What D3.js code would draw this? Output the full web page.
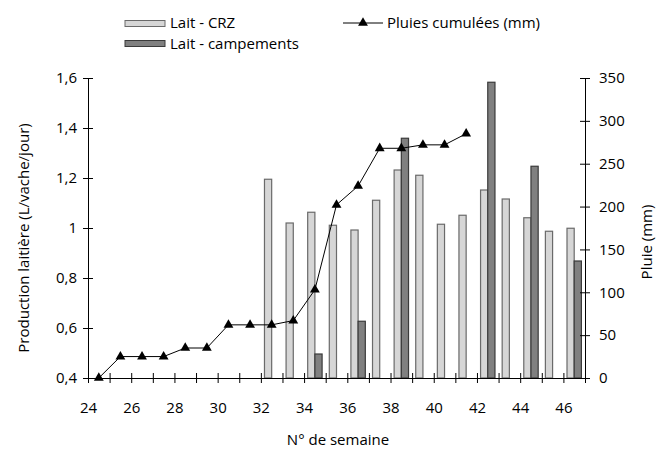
<!DOCTYPE html>
<html>
<head>
<meta charset="utf-8">
<script src="https://cdn.jsdelivr.net/npm/d3@7"></script>
<style>
  html, body { margin: 0; padding: 0; background: #fff; }
  svg { display: block; }
  text { font-family: "Open Sans", "DejaVu Sans", sans-serif; fill: #000; }
</style>
</head>
<body>
<svg id="chart" width="658" height="450"></svg>
<script>
const weeks = [24,25,26,27,28,29,30,31,32,33,34,35,36,37,38,39,40,41,42,43,44,45,46];
const laitCRZ = [null,null,null,null,null,null,null,null,
  1.195,1.02,1.063,1.011,0.992,1.111,1.232,1.211,1.015,1.051,1.152,1.116,1.041,0.987,0.999];
const laitCampements = [null,null,null,null,null,null,null,null,
  null,null,0.496,null,0.627,null,1.359,null,null,null,1.583,null,1.247,null,0.868];
const pluiesCumulees = [0,25,25,25,35,35,62,62,62,67,103,202,224,268,268,272,272,285,
  null,null,null,null,null];
const leftTicks = [0.4,0.6,0.8,1,1.2,1.4,1.6];
const rightTicks = [0,50,100,150,200,250,300,350];
const xTickLabels = [24,26,28,30,32,34,36,38,40,42,44,46];

const svg = d3.select("#chart");
const L = 88, R = 585, T = 78, B = 378;
const FS = 15;

const x = d3.scaleBand().domain(weeks).range([L, R]).padding(0);
const xAxisScale = d3.scaleLinear().domain([weeks[0], weeks[weeks.length-1] + 1]).range([L, R]);
const xSub = d3.scaleBand().domain(["crz","camp"]).range([0, x.bandwidth()]).paddingInner(0).paddingOuter(0.5);
const yL = d3.scaleLinear().domain([0.4, 1.6]).range([B, T]);
const yR = d3.scaleLinear().domain([0, 350]).range([B, T]);

// Bars
const crzData = weeks.map((w,i) => ({w, v: laitCRZ[i]})).filter(d => d.v != null);
const campData = weeks.map((w,i) => ({w, v: laitCampements[i]})).filter(d => d.v != null);

svg.append("g").selectAll("rect").data(crzData).join("rect")
  .attr("x", d => x(d.w) + xSub("crz"))
  .attr("y", d => yL(d.v))
  .attr("width", xSub.bandwidth())
  .attr("height", d => yL(0.4) - yL(d.v))
  .attr("fill", "#d6d6d6").attr("stroke", "#6a6a6a").attr("stroke-width", 1.2);

svg.append("g").selectAll("rect").data(campData).join("rect")
  .attr("x", d => x(d.w) + xSub("camp"))
  .attr("y", d => yL(d.v))
  .attr("width", xSub.bandwidth())
  .attr("height", d => yL(0.4) - yL(d.v))
  .attr("fill", "#808080").attr("stroke", "#3a3a3a").attr("stroke-width", 1.2);

// Rain line
const rainData = weeks.map((w,i) => ({w, v: pluiesCumulees[i]})).filter(d => d.v != null);
const line = d3.line().x(d => x(d.w) + x.bandwidth()/2).y(d => yR(d.v));
svg.append("path").datum(rainData).attr("d", line)
  .attr("fill", "none").attr("stroke", "#000").attr("stroke-width", 1);
const tri = d3.symbol().type(d3.symbolTriangle).size(42);
svg.append("g").selectAll("path").data(rainData).join("path")
  .attr("d", tri)
  .attr("transform", d => `translate(${x(d.w) + x.bandwidth()/2},${yR(d.v)})`)
  .attr("fill", "#000");

// Axes
function styleAxis(g) {
  g.select(".domain").attr("stroke", "#000").attr("stroke-width", 1);
  g.selectAll(".tick line").attr("stroke", "#000").attr("stroke-width", 1);
  g.selectAll(".tick text").attr("font-size", FS).attr("font-family", "\"Open Sans\", sans-serif").attr("fill", "#000");
}

const gx = svg.append("g").attr("transform", `translate(0,${B})`)
  .call(d3.axisBottom(xAxisScale).tickValues(d3.range(weeks[0], weeks[weeks.length-1] + 2))
    .tickFormat(d => xTickLabels.includes(d) ? String(d) : "")
    .tickSizeOuter(0).tickSize(0).tickPadding(24));
styleAxis(gx);
gx.selectAll(".tick line").attr("y1", -5).attr("y2", 5);

const gl = svg.append("g").attr("transform", `translate(${L},0)`)
  .call(d3.axisLeft(yL).tickValues(leftTicks)
    .tickFormat(d => d3.format("~g")(d).replace(".", ","))
    .tickSizeOuter(0).tickSize(0).tickPadding(11));
styleAxis(gl);
gl.selectAll(".tick line").attr("x1", -5).attr("x2", 5);

const gr = svg.append("g").attr("transform", `translate(${R},0)`)
  .call(d3.axisRight(yR).tickValues(rightTicks)
    .tickSizeOuter(0).tickSize(0).tickPadding(14));
styleAxis(gr);
gr.selectAll(".tick line").attr("x1", -5).attr("x2", 5);

// Axis titles
svg.append("text").attr("transform", "translate(23,238) rotate(-90)")
  .attr("text-anchor", "middle").attr("dominant-baseline", "central")
  .attr("font-size", FS).text("Production laitière (L/vache/jour)");
svg.append("text").attr("transform", "translate(646,242) rotate(-90)")
  .attr("text-anchor", "middle").attr("dominant-baseline", "central")
  .attr("font-size", FS).text("Pluie (mm)");
svg.append("text").attr("x", 338).attr("y", 439)
  .attr("text-anchor", "middle").attr("dominant-baseline", "central")
  .attr("font-size", FS).text("N° de semaine");

// Legend
const lg = svg.append("g");
lg.append("rect").attr("x", 125).attr("y", 20.5).attr("width", 40).attr("height", 6)
  .attr("fill", "#d6d6d6").attr("stroke", "#6a6a6a").attr("stroke-width", 1);
lg.append("text").attr("x", 170).attr("y", 22).attr("dominant-baseline", "central")
  .attr("font-size", FS).text("Lait - CRZ");
lg.append("rect").attr("x", 125).attr("y", 40.5).attr("width", 40).attr("height", 6)
  .attr("fill", "#808080").attr("stroke", "#3a3a3a").attr("stroke-width", 1);
lg.append("text").attr("x", 170).attr("y", 43).attr("dominant-baseline", "central")
  .attr("font-size", FS).text("Lait - campements");
lg.append("line").attr("x1", 343).attr("x2", 383).attr("y1", 23).attr("y2", 23)
  .attr("stroke", "#000").attr("stroke-width", 1);
lg.append("path").attr("d", tri).attr("transform", "translate(363,23)").attr("fill", "#000");
lg.append("text").attr("x", 387).attr("y", 22).attr("dominant-baseline", "central")
  .attr("font-size", FS).text("Pluies cumulées (mm)");
</script>
</body>
</html>
